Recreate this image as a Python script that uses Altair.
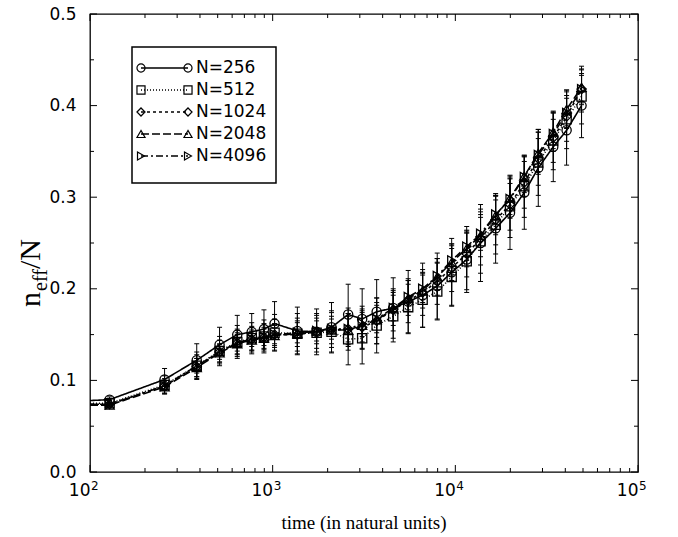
import altair as alt
import pandas as pd

# ---------------- data ----------------
times = [128, 256, 384, 512, 640, 768, 896, 1024, 1365, 1740, 2100, 2590, 3090, 3710,
         4570, 5520, 6620, 7960, 9550, 11540, 13740, 16620, 19920, 23850, 28450, 34360,
         40660, 49080]

labels = ["N=256", "N=512", "N=1024", "N=2048", "N=4096"]

n256 = [0.079, 0.101, 0.122, 0.139, 0.150, 0.153, 0.156, 0.162, 0.154, 0.153, 0.158, 0.172,
        0.167, 0.175, 0.179, 0.186, 0.193, 0.203, 0.218, 0.232, 0.250, 0.266, 0.283, 0.305,
        0.332, 0.355, 0.373, 0.400]
n512 = [0.075, 0.095, 0.116, 0.132, 0.142, 0.146, 0.148, 0.152, 0.151, 0.152, 0.153, 0.145,
        0.146, 0.160, 0.170, 0.180, 0.188, 0.197, 0.213, 0.230, 0.252, 0.270, 0.290, 0.312,
        0.338, 0.362, 0.385, 0.410]
n1024 = [0.074, 0.094, 0.115, 0.131, 0.141, 0.145, 0.147, 0.150, 0.150, 0.153, 0.155, 0.156,
         0.158, 0.165, 0.177, 0.187, 0.196, 0.208, 0.223, 0.238, 0.255, 0.275, 0.292, 0.316,
         0.342, 0.365, 0.388, 0.418]
n2048 = [0.073, 0.093, 0.114, 0.130, 0.140, 0.144, 0.146, 0.149, 0.151, 0.154, 0.155, 0.155,
         0.160, 0.166, 0.178, 0.190, 0.198, 0.213, 0.229, 0.244, 0.258, 0.280, 0.299, 0.323,
         0.348, 0.371, 0.396, 0.420]
n4096 = [0.074, 0.094, 0.116, 0.131, 0.141, 0.145, 0.147, 0.150, 0.152, 0.154, 0.156, 0.156,
         0.162, 0.167, 0.179, 0.191, 0.200, 0.214, 0.231, 0.246, 0.260, 0.281, 0.298, 0.322,
         0.346, 0.369, 0.392, 0.418]

err256 = [0.003, 0.012, 0.018, 0.019, 0.021, 0.020, 0.021, 0.024, 0.026, 0.025, 0.027, 0.033,
          0.033, 0.035, 0.033, 0.034, 0.035, 0.036, 0.037, 0.036, 0.042, 0.038, 0.040, 0.040,
          0.042, 0.038, 0.038, 0.035]
err512 = [0.003, 0.010, 0.015, 0.016, 0.018, 0.017, 0.018, 0.020, 0.022, 0.021, 0.023, 0.028,
          0.028, 0.030, 0.028, 0.029, 0.030, 0.031, 0.031, 0.031, 0.035, 0.032, 0.034, 0.034,
          0.036, 0.032, 0.032, 0.030]
err1024 = [0.002, 0.008, 0.013, 0.013, 0.015, 0.014, 0.015, 0.017, 0.018, 0.018, 0.019, 0.023,
           0.023, 0.025, 0.023, 0.024, 0.025, 0.025, 0.026, 0.025, 0.029, 0.027, 0.028, 0.028,
           0.029, 0.027, 0.027, 0.025]
err2048 = [0.002, 0.007, 0.010, 0.010, 0.012, 0.011, 0.012, 0.013, 0.014, 0.014, 0.015, 0.018,
           0.018, 0.019, 0.018, 0.019, 0.019, 0.020, 0.020, 0.020, 0.023, 0.021, 0.022, 0.022,
           0.023, 0.021, 0.021, 0.019]
err4096 = [0.001, 0.005, 0.008, 0.008, 0.009, 0.008, 0.009, 0.010, 0.011, 0.011, 0.011, 0.014,
           0.014, 0.015, 0.014, 0.014, 0.015, 0.015, 0.016, 0.015, 0.018, 0.016, 0.017, 0.017,
           0.018, 0.016, 0.016, 0.015]

# value where each curve meets the left edge (t = 10^2)
edge_t = 100
edge_vals = [0.078, 0.075, 0.074, 0.073, 0.074]

x_major = [100, 1000, 10000, 100000]
x_exponents = ["2", "3", "4", "5"]
x_minor = [200, 300, 400, 500, 600, 700, 800, 900,
           2000, 3000, 4000, 5000, 6000, 7000, 8000, 9000,
           20000, 30000, 40000, 50000, 60000, 70000, 80000, 90000]
y_major = [0.0, 0.1, 0.2, 0.3, 0.4, 0.5]
y_minor = [0.05, 0.15, 0.25, 0.35, 0.45]

shapes = ["circle", "square", "diamond", "triangle-up", "triangle-right"]
dashes = [[1, 0], [1, 2], [3, 3], [8, 3], [7, 3, 2, 3]]

# ---------------- build tables ----------------
series = [n256, n512, n1024, n2048, n4096]
errs = [err256, err512, err1024, err2048, err4096]
rows = []
line_rows = []
for lab, vals, ee, ev in zip(labels, series, errs, edge_vals):
    line_rows.append({"t": edge_t, "v": ev, "N": lab})
    for t, v, e in zip(times, vals, ee):
        rows.append({"t": t, "v": v, "lo": v - e, "hi": v + e, "N": lab})
        line_rows.append({"t": t, "v": v, "N": lab})
df = pd.DataFrame(rows)
ldf = pd.DataFrame(line_rows)

W, H = 548, 458
SANS = "DejaVu Sans"
SERIF = "Liberation Serif"

xscale = alt.Scale(type="log", domain=[100, 100000])
yscale = alt.Scale(domain=[0, 0.5], nice=False, zero=False)

X = alt.X("t:Q", scale=xscale,
          axis=alt.Axis(values=x_major, labelExpr="'10'", ticks=False, tickSize=0,
                        domain=False, grid=False, labelAlign="right", labelBaseline="top",
                        labelPadding=10, labelFont=SANS, labelFontSize=17,
                        labelColor="black", labelFlush=False, labelOverlap=False,
                        title=None))
Y = alt.Y("lo:Q", scale=yscale,
          axis=alt.Axis(values=y_major, format=".1f", ticks=False, tickSize=0,
                        domain=False, grid=False, labelPadding=14, labelFont=SANS,
                        labelFontSize=17, labelColor="black", title=None))

shape_enc = alt.Shape("N:N", scale=alt.Scale(domain=labels, range=shapes), legend=None)
dash_enc = alt.StrokeDash("N:N", scale=alt.Scale(domain=labels, range=dashes), legend=None)

base = alt.Chart(df)

err_bars = base.mark_rule(color="black", strokeWidth=1.0).encode(
    x=X, y=Y, y2="hi:Q", detail="N:N")
cap_hi = base.mark_rule(color="black", strokeWidth=1.0, xOffset=-2.5, x2Offset=2.5).encode(
    x="t:Q", x2="t:Q", y="hi:Q")
cap_lo = base.mark_rule(color="black", strokeWidth=1.0, xOffset=-2.5, x2Offset=2.5).encode(
    x="t:Q", x2="t:Q", y="lo:Q")

lines = alt.Chart(ldf).mark_line(color="black", strokeWidth=1.6).encode(
    x="t:Q", y="v:Q", strokeDash=dash_enc, detail="N:N", order="t:Q")

points = base.mark_point(filled=False, color="black", size=85, strokeWidth=1.3,
                         opacity=1).encode(x="t:Q", y="v:Q", shape=shape_enc)

# ---------------- inward ticks on all four sides ----------------
xmaj = pd.DataFrame({"t": x_major})
xmin = pd.DataFrame({"t": x_minor})
ymaj = pd.DataFrame({"v": y_major})
ymin = pd.DataFrame({"v": y_minor})
tick_layers = []
for d, ln in ((xmaj, 7), (xmin, 4)):
    tick_layers.append(alt.Chart(d).mark_rule(color="black", strokeWidth=1).encode(
        x="t:Q", y=alt.value(H), y2=alt.value(H - ln)))
    tick_layers.append(alt.Chart(d).mark_rule(color="black", strokeWidth=1).encode(
        x="t:Q", y=alt.value(0), y2=alt.value(ln)))
for d, ln in ((ymaj, 7), (ymin, 4)):
    tick_layers.append(alt.Chart(d).mark_rule(color="black", strokeWidth=1).encode(
        y="v:Q", x=alt.value(0), x2=alt.value(ln)))
    tick_layers.append(alt.Chart(d).mark_rule(color="black", strokeWidth=1).encode(
        y="v:Q", x=alt.value(W), x2=alt.value(W - ln)))

# exponents of the x tick labels
exp_df = pd.DataFrame({"t": x_major, "e": x_exponents})
exps = alt.Chart(exp_df).mark_text(align="left", baseline="alphabetic", dx=1, fontSize=12,
                                   font=SANS, color="black").encode(
    x="t:Q", y=alt.value(H + 18), text="e:N")

# axis titles
xtitle = alt.Chart(pd.DataFrame({"s": ["time (in natural units)"]})).mark_text(
    font=SERIF, fontSize=19, color="black", baseline="middle", align="center").encode(
    x=alt.value(W / 2), y=alt.value(H + 51), text="s:N")
yt_n = alt.Chart(pd.DataFrame({"s": ["n"]})).mark_text(
    font=SERIF, fontSize=30, color="black", angle=270, align="left",
    baseline="alphabetic").encode(x=alt.value(-50), y=alt.value(293), text="s:N")
yt_eff = alt.Chart(pd.DataFrame({"s": ["eff"]})).mark_text(
    font=SERIF, fontSize=20, color="black", angle=270, align="left",
    baseline="alphabetic").encode(x=alt.value(-43), y=alt.value(277), text="s:N")
yt_N = alt.Chart(pd.DataFrame({"s": ["/N"]})).mark_text(
    font=SERIF, fontSize=30, color="black", angle=270, align="left",
    baseline="alphabetic").encode(x=alt.value(-50), y=alt.value(255), text="s:N")

# ---------------- legend (drawn inside the plot) ----------------
LX0, LX1, LY0, LY1 = 42, 186, 33, 169
leg = [alt.Chart(pd.DataFrame({"a": [0]})).mark_rect(
    fill="white", stroke="black", strokeWidth=1.5).encode(
    x=alt.value(LX0), x2=alt.value(LX1), y=alt.value(LY0), y2=alt.value(LY1))]
for i, (lab, shp, dsh) in enumerate(zip(labels, shapes, dashes)):
    yy = 54 + 22 * i
    one = pd.DataFrame({"s": [lab]})
    leg.append(alt.Chart(one).mark_rule(color="black", strokeWidth=1.3, strokeDash=dsh).encode(
        x=alt.value(51), x2=alt.value(98), y=alt.value(yy)))
    for xx in (51, 98):
        leg.append(alt.Chart(one).mark_point(shape=shp, filled=False, color="black", size=65,
                                             strokeWidth=1.2, opacity=1).encode(
            x=alt.value(xx), y=alt.value(yy)))
    leg.append(alt.Chart(one).mark_text(align="left", baseline="middle", font=SANS,
                                        fontSize=17, color="black").encode(
        x=alt.value(106), y=alt.value(yy), text="s:N"))

chart = alt.layer(
    err_bars, cap_hi, cap_lo, lines, points, *tick_layers, exps, xtitle, yt_n, yt_eff, yt_N,
    *leg
).properties(
    width=W, height=H,
    padding={"left": 90, "top": 14, "right": 40, "bottom": 65},
    autosize=alt.AutoSizeParams(type="none"),
    background="white",
).configure_view(stroke="black", strokeWidth=1.3)

chart.save("out.html", embed_options={"renderer": "svg", "actions": False})
